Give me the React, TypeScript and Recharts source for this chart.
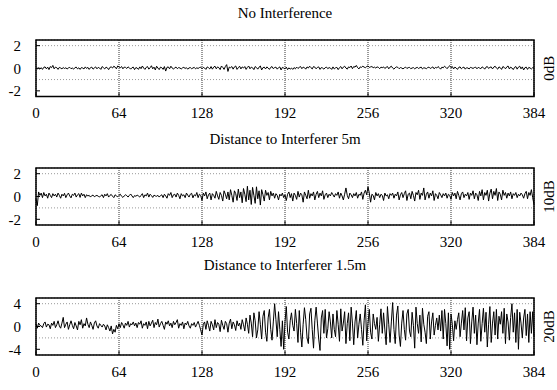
import React from 'react';
import { LineChart, Line, XAxis, YAxis, CartesianGrid, ReferenceArea, Label } from 'recharts';

// x tick labels, shared by all three panels
const xTicks = [0, 64, 128, 192, 256, 320, 384];

// panel 1: no interference (0dB)
const noInterference = [
  0, -0.05, 0.02, -0.08, 0.05, -0.1, 0.08, 0.12, -0.05, 0.1, -0.12, 0.15, 0.05, 0.25, -0.05, 0.1,
  0.05, -0.1, 0.08, 0.02, -0.05, 0.06, -0.02, 0.04, -0.06, 0.03, 0.08, -0.04, 0.02, -0.08, 0.05, 0.1,
  -0.05, 0.04, -0.1, 0.06, 0.02, -0.06, 0.12, -0.02, 0.08, -0.1, 0.05, 0.1, -0.08, 0.03, 0.12, -0.05,
  0.08, 0.02, -0.1, 0.15, 0.05, -0.06, 0.1, 0.04, -0.12, 0.08, 0.12, 0.02, 0.18, 0.1, -0.05, 0.2,
  0.12, 0.05, 0.15, -0.05, 0.1, 0.08, -0.02, 0.12, 0.04, -0.08, 0.05, 0.1, -0.12, 0.06, 0.02, -0.1,
  0.12, -0.04, 0.2, 0.02, -0.1, 0.08, 0.15, -0.08, 0.05, 0.22, -0.05, 0.1, -0.15, 0.18, 0.02, -0.12,
  0.1, 0.05, -0.1, 0.15, -0.25, 0.08, 0.12, -0.05, 0.18, 0.02, -0.08, 0.05, 0.1, -0.04, 0.06, 0.02,
  -0.06, 0.04, 0.08, -0.02, 0.05, -0.08, 0.03, 0.06, -0.04, 0.02, 0.08, -0.05, 0.04, -0.02, 0.06, 0.1,
  -0.05, 0.08, 0.02, -0.1, 0.12, 0.05, -0.06, 0.15, -0.08, 0.1, 0.18, -0.05, 0.12, 0.05, -0.12, 0.2,
  0.08, -0.1, 0.15, 0.32, -0.28, 0.1, 0.05, 0.15, -0.08, 0.12, 0.2, -0.1, 0.05, 0.18, -0.06, 0.12,
  0.02, 0.15, -0.1, 0.08, 0.2, -0.05, 0.1, 0.04, -0.12, 0.15, 0.06, -0.08, 0.1, 0.2, -0.15, 0.05,
  0.1, -0.06, 0.12, 0.02, -0.1, 0.08, 0.15, -0.04, 0.06, 0.1, -0.08, 0.05, 0.12, -0.15, 0.08, 0.02,
  -0.06, 0.1, -0.12, 0.04, -0.08, 0.02, -0.1, 0.06, -0.05, 0.1, -0.02, 0.08, 0.15, -0.04, 0.1, 0.05,
  -0.08, 0.12, 0.02, 0.18, 0.05, -0.06, 0.15, 0.1, -0.05, 0.08, 0.12, -0.1, 0.06, 0.02, -0.08, 0.05,
  0.1, -0.04, 0.06, 0.02, -0.1, 0.12, -0.06, 0.04, 0.08, -0.12, 0.05, 0.15, -0.05, 0.1, 0.18, 0.02,
  -0.08, 0.12, 0.06, 0.2, -0.04, 0.15, 0.1, 0.25, 0.05, -0.06, 0.12, 0.08, 0.18, 0.1, 0.05, 0.15,
  0.2, 0.08, 0.12, 0.15, 0.05, 0.1, 0.02, 0.12, 0.08, -0.04, 0.1, 0.05, 0.12, -0.02, 0.08, 0.15,
  -0.05, 0.1, 0.18, 0.02, -0.08, 0.05, 0.12, 0.08, -0.04, 0.06, 0.02, -0.06, 0.04, 0.1, -0.02, 0.05,
  0.08, -0.04, 0.02, 0.06, -0.05, 0.03, 0.08, -0.02, 0.05, 0.1, -0.06, 0.04, 0.02, -0.04, 0.06, 0.1,
  -0.02, 0.05, 0.12, -0.05, 0.08, 0.02, 0.15, 0.05, -0.08, 0.1, 0.04, 0.18, 0.08, -0.04, 0.12, 0.22,
  0.05, 0.15, -0.06, 0.1, 0.02, -0.1, 0.08, 0.12, -0.05, 0.06, 0.1, -0.08, 0.05, 0.02, -0.06, 0.08,
  0.04, -0.02, 0.06, 0.1, -0.05, 0.08, 0.02, -0.04, 0.12, 0.05, -0.08, 0.1, 0.15, -0.02, 0.08, 0.12,
  -0.06, 0.1, 0.18, 0.02, -0.08, 0.12, 0.05, -0.1, 0.15, 0.08, -0.05, 0.12, 0.2, -0.06, 0.1, 0.02,
  -0.12, 0.08, 0.15, -0.08, 0.1, 0.18, -0.05, 0.12, -0.15, 0.05, 0.1, -0.1, 0.08, 0.02, -0.06, 0.05,
  0.02,
];

// panel 2: interferer at 5m (10dB)
const interferer5m = [
  -0.2, -0.8, 0.4, 0.1, 0.3, -0.1, 0.35, 0.05, 0.2, -0.15, 0.3, 0.1, -0.1, 0.25, 0.05, 0.2,
  -0.05, 0.3, 0.1, -0.15, 0.2, 0.05, 0.28, -0.1, 0.15, 0.3, 0.05, -0.12, 0.2, 0.1, 0.3, -0.05,
  0.15, 0.25, -0.08, 0.3, 0.05, 0.2, -0.1, 0.15, 0.05, 0.1, -0.05, 0.08, 0.12, -0.02, 0.05, 0.1,
  0.02, -0.05, 0.08, 0.15, -0.1, 0.2, 0.05, 0.25, -0.05, 0.1, 0.18, 0.02, -0.1, 0.15, 0.05, -0.02,
  0.1, 0.2, 0.02, -0.08, 0.05, 0.15, 0.08, -0.05, 0.1, 0.22, 0.05, -0.1, 0.08, 0.02, 0.12, 0.05,
  -0.05, 0.1, 0.25, -0.1, 0.15, 0.05, 0.3, -0.05, 0.2, 0.08, -0.08, 0.12, 0.05, 0.02, 0.1, -0.05,
  0.08, 0.15, -0.1, 0.2, 0.05, -0.15, 0.25, 0.1, 0.35, -0.1, 0.15, 0.2, -0.05, 0.3, 0.1, -0.2,
  0.25, 0.05, 0.15, -0.1, 0.3, 0.12, -0.05, 0.2, 0.28, -0.12, 0.15, 0.05, 0.35, -0.1, 0.2, 0.1,
  -0.35, 0.3, 0.05, 0.4, -0.2, 0.15, 0.3, -0.3, 0.25, 0.1, -0.15, 0.45, 0.05, -0.25, 0.35, 0.1,
  -0.4, 0.5, 0.2, -0.2, 0.4, -0.3, 0.6, 0.1, -0.5, 0.5, 0.25, -0.35, 0.65, -0.1, 0.4, -0.55,
  0.7, 0.2, -0.45, 0.9, -0.3, 0.55, -0.7, 0.8, 0.1, -0.6, 0.85, -0.2, 0.5, -0.75, 0.6, 0.15,
  -0.4, 0.55, 0.1, 0.35, -0.3, 0.45, 0.05, 0.3, -0.15, 0.25, 0.1, -0.3, 0.2, 0.05, 0.3, -0.1,
  0.15, -0.35, 0.2, 0.4, -0.1, 0.25, -0.4, 0.3, 0.1, -0.25, 0.45, -0.05, 0.3, 0.15, -0.5, 0.4,
  0.1, -0.2, 0.55, -0.15, 0.25, 0.05, 0.4, -0.3, 0.2, 0.45, -0.1, 0.3, 0.05, 0.5, -0.25, 0.15,
  0.3, -0.1, 0.2, 0.05, 0.35, 0.15, -0.05, 0.25, 0.1, 0.4, -0.15, 0.3, 0.05, -0.3, 0.2, 0.75,
  0.1, -0.2, 0.3, 0.15, -0.1, 0.25, 0.05, 0.35, -0.15, 0.2, 0.1, 0.4, -0.25, 0.3, 0.55, 0.15,
  0.85, 0.3, -0.5, 0.2, 0.1, -0.3, 0.35, 0.05, 0.25, -0.1, 0.2, 0.1, -0.35, 0.3, 0.05, 0.15,
  -0.2, 0.25, 0.1, 0.3, -0.15, 0.2, 0.05, 0.4, -0.3, 0.15, 0.35, -0.1, 0.25, 0.5, -0.35, 0.2,
  0.3, -0.2, 0.45, 0.1, -0.4, 0.35, 0.15, 0.55, -0.25, 0.3, 0.1, 0.75, -0.3, 0.2, 0.4, -0.15,
  0.3, 0.05, 0.5, -0.35, 0.25, 0.1, -0.2, 0.35, 0.15, -0.1, 0.25, 0.05, 0.3, -0.15, 0.2, 0.1,
  -0.25, 0.35, 0.05, 0.3, -0.2, 0.45, 0.1, -0.3, 0.25, 0.4, -0.1, 0.2, 0.05, 0.35, -0.25, 0.3,
  0.1, 0.5, -0.2, 0.3, 0.15, -0.35, 0.45, 0.05, 0.6, -0.3, 0.35, 0.1, 0.55, -0.4, 0.3, 0.65,
  -0.2, 0.45, 0.1, 0.7, -0.35, 0.4, 0.2, -0.3, 0.55, 0.1, 0.35, -0.15, 0.3, 0.05, 0.4, -0.2,
  0.25, 0.1, 0.35, -0.1, 0.2, 0.05, 0.3, 0.15, -0.15, 0.25, 0.45, -0.2, 0.35, 0.1, 0.6, -0.1,
  -0.7,
];

// panel 3: interferer at 1.5m (20dB)
const interferer15m = [
  0.5, -0.3, 0.6, 0.2, 0.1, -0.2, 0.5, 0.8, -0.1, 0.4, 0.3, -0.4, 0.6, 0.2, 0.9, -0.2,
  0.3, 1.0, 0.1, -0.3, 0.6, 1.6, -0.2, 0.4, 0.8, -0.5, 0.3, 1.0, 0.2, -0.4, 0.7, 0.1,
  -0.6, 0.9, 0.3, 1.2, -0.3, 0.5, 0.1, 1.5, 0.4, -0.2, 0.8, 0.2, -0.5, 0.6, 1.0, 0.1,
  -0.3, 0.5, 0.2, -0.1, 0.4, 0.1, -0.6, 0.3, -0.2, -0.8, 0.1, -1.3, -0.5, -1.0, 0.2, -0.4,
  0.5, -0.2, 0.7, 0.3, -0.3, 0.6, 0.2, 0.9, -0.1, 0.5, 0.3, 0.8, 0.1, 0.6, -0.2, 0.7,
  0.4, 1.0, -0.3, 0.5, 0.2, 0.8, -0.4, 0.9, 0.1, 0.6, 1.1, -0.2, 0.7, 0.3, 1.3, -0.1,
  0.5, 0.9, 0.2, -0.5, 0.8, 0.4, 1.0, 0.1, 0.6, -0.2, 0.9, 0.3, 0.7, 1.2, -0.3, 0.5,
  0.2, 0.8, -0.4, 0.6, 0.3, 0.9, 0.1, -0.3, 0.5, 0.2, 0.7, -0.1, 0.4, 0.9, 0.2, -0.6,
  -1.5, 0.4, 0.8, -0.5, 1.0, 0.2, -0.8, 0.9, 0.3, -0.6, 1.2, -0.2, 0.7, 0.4, -0.9, 1.1,
  0.2, -0.5, 0.9, 0.5, -1.0, 0.6, 1.3, -0.4, 0.8, 0.3, -0.7, 1.0, 0.1, 0.6, -0.5, 1.2,
  0.3, -0.8, 1.5, 0.4, -1.2, 2.0, 0.6, -1.8, 2.4, 1.0, -2.0, -0.6, 2.6, 0.4, -2.2, 1.8,
  2.8, -1.0, -2.6, 1.5, 3.0, -0.5, -2.4, 0.8, 4.0, 1.2, -1.8, 2.6, -0.5, -3.5, 1.0, -4.0,
  0.8, 3.5, -1.0, -2.2, 1.0, 2.4, 0.2, -0.8, 3.0, 0.5, -2.8, 2.8, -1.0, -3.6, 0.4, 3.3,
  1.2, -2.0, -3.0, 2.2, 3.2, -0.5, -3.8, 1.0, 3.4, 0.6, -2.2, -4.2, 1.5, 2.8, -1.2, 3.0,
  -2.0, -0.4, 2.6, 0.8, -2.0, 2.2, -0.5, -1.8, 2.8, 0.4, -2.6, 3.1, -0.8, 0.6, 2.6, -3.0,
  0.5, 2.4, -2.5, 3.4, 0.6, -3.2, 0.8, 2.8, -2.0, 0.4, 2.2, -0.5, -3.3, 1.0, 3.8, -2.5,
  0.6, 3.0, -1.0, -2.2, 2.2, 0.5, -0.5, 1.6, -2.6, 0.4, 3.1, -1.2, 2.4, -0.6, -3.2, 3.5,
  0.4, -2.8, 0.8, 4.2, -0.5, -3.0, 2.0, 3.6, -1.5, -3.5, 0.6, 2.8, -0.5, -2.4, 2.2, 3.0,
  -0.8, -1.8, 2.5, 0.2, -3.8, 3.4, 0.5, -1.2, 2.0, -2.7, 3.2, 0.4, -1.0, -3.0, 1.8, 2.6,
  -2.2, 0.8, 2.4, -1.5, 0.2, 1.5, -0.6, 2.0, -0.8, 2.8, -2.2, 3.0, 0.5, -3.4, 2.4, -4.0,
  2.2, 0.4, -2.5, 1.0, -0.5, 1.2, 2.4, -1.8, 0.6, 2.8, -0.6, 3.3, -2.5, 1.5, 2.6, -3.0,
  0.8, 3.4, -1.2, 2.0, -3.2, 0.6, 3.0, -2.6, 0.5, 3.2, -1.0, 2.5, -3.6, 0.4, 3.5, -2.8,
  0.6, 2.6, -1.5, 3.0, -2.2, 1.8, 0.4, 2.6, -1.2, 3.2, -3.0, 2.2, 0.8, -2.4, 1.6, 4.0,
  -1.0, 2.4, -2.8, 3.0, -4.0, 2.5, 0.6, -2.0, 1.5, 3.0, -1.6, 2.2, -2.8, 2.6, -1.2, 2.6,
  -1.8,
];

const FONT = '"Liberation Serif", "Times New Roman", serif';
const FS = 15;
const TICK = -4; // gnuplot style: tick marks point into the frame

type PanelProps = {
  title: string;
  values: number[];
  yGrid: number[];
  yLabels: number[];
  yMax: number;
  db: string;
  top: number;
  plotHeight: number;
  titleY: number;
};

const Panel = ({ title, values, yGrid, yLabels, yMax, db, top, plotHeight, titleY }: PanelProps) => {
  const data = values.map((v, i) => ({ n: i, v }));
  const marginTop = 10;
  const tickStroke = { stroke: '#000', strokeWidth: 1 };
  return (
    <>
      <div
        style={{
          position: 'absolute',
          left: 36,
          width: 498,
          top: titleY - 9,
          textAlign: 'center',
          fontFamily: FONT,
          fontSize: FS,
          lineHeight: '18px',
        }}
      >
        {title}
      </div>
      <div style={{ position: 'absolute', left: 0, top: top - marginTop }}>
        <LineChart
          width={557}
          height={marginTop + plotHeight + 30}
          data={data}
          margin={{ top: marginTop, right: 0, bottom: 0, left: 0 }}
        >
          <CartesianGrid horizontal vertical={false} stroke="#999" strokeDasharray="1 2" />
          <CartesianGrid horizontal={false} vertical stroke="#333" strokeDasharray="1 1" />
          <XAxis
            dataKey="n"
            type="number"
            domain={[0, 384]}
            ticks={xTicks}
            height={30}
            tickLine={tickStroke}
            tickSize={TICK}
            axisLine={false}
            tickMargin={15}
            tick={{ fill: '#000', fontSize: FS, fontFamily: FONT }}
          />
          <XAxis
            xAxisId="top"
            orientation="top"
            type="number"
            domain={[0, 384]}
            ticks={xTicks}
            height={0}
            tickLine={tickStroke}
            tickSize={TICK}
            axisLine={false}
            tick={false}
          />
          <YAxis
            domain={[-yMax, yMax]}
            ticks={yGrid}
            width={36}
            tickLine={tickStroke}
            tickSize={TICK}
            axisLine={false}
            tickMargin={19}
            allowDataOverflow
            tickFormatter={(v: number) => (yLabels.includes(v) ? String(v) : '')}
            tick={{ fill: '#000', fontSize: FS, fontFamily: FONT }}
          />
          <YAxis
            yAxisId="db"
            orientation="right"
            domain={[-yMax, yMax]}
            ticks={yGrid}
            allowDataOverflow
            width={23}
            tick={false}
            axisLine={false}
            tickLine={tickStroke}
            tickSize={TICK}
          >
            <Label value={db} angle={-90} position="center" dx={3} fill="#000" fontSize={FS} fontFamily={FONT} />
          </YAxis>
          <Line
            type="linear"
            dataKey="v"
            stroke="#000"
            strokeWidth={1}
            dot={false}
            isAnimationActive={false}
          />
          <ReferenceArea x1={0} x2={384} y1={-yMax} y2={yMax} fill="none" stroke="#000" strokeWidth={1.5} />
        </LineChart>
      </div>
    </>
  );
};

export default function App() {
  return (
    <div style={{ position: 'absolute', left: 0, top: 0, width: 557, height: 390, background: '#fff' }}>
      <Panel
        title="No Interference"
        values={noInterference}
        yGrid={[-2, -1, 0, 1, 2]}
        yLabels={[-2, 0, 2]}
        yMax={2.5}
        db="0dB"
        top={40}
        plotHeight={56.5}
        titleY={13}
      />
      <Panel
        title="Distance to Interferer 5m"
        values={interferer5m}
        yGrid={[-2, -1, 0, 1, 2]}
        yLabels={[-2, 0, 2]}
        yMax={2.5}
        db="10dB"
        top={168}
        plotHeight={57}
        titleY={139}
      />
      <Panel
        title="Distance to Interferer 1.5m"
        values={interferer15m}
        yGrid={[-4, -2, 0, 2, 4]}
        yLabels={[-4, 0, 4]}
        yMax={5}
        db="20dB"
        top={298}
        plotHeight={57}
        titleY={265}
      />
    </div>
  );
}
